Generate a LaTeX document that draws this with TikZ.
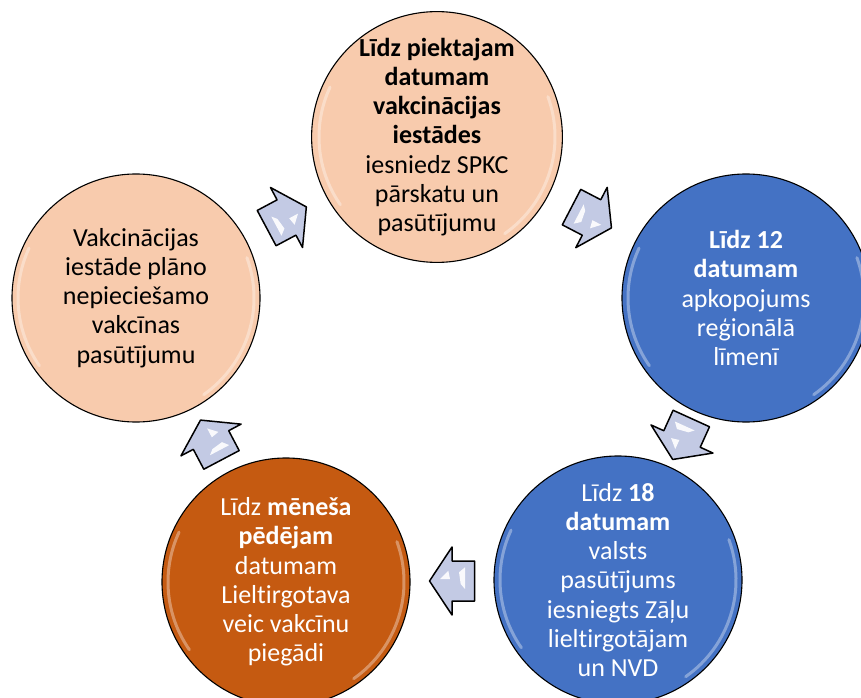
\documentclass[tikz,border=0pt]{standalone}
\usepackage{fontspec}
\setmainfont{Carlito}[Ligatures=NoCommon]
\usetikzlibrary{calc}
\definecolor{peach}{HTML}{F8CBAD}
\definecolor{oblue}{HTML}{4472C4}
\definecolor{dorange}{HTML}{C55A11}
\definecolor{arrfill}{HTML}{C3CAE4}
\tikzset{
  circ/.style={circle, draw=black, line width=1.1pt, minimum size=248pt, inner sep=0pt,
    align=center, font=\fontsize{26}{29.2}\selectfont},
  rim/.style={white, opacity=.35, line width=3pt, line cap=round},
  arrbody/.style={draw=black, line width=1.5pt, line join=round, fill=arrfill},
  arrhl/.style={fill=white, opacity=.9},
  blockarrow/.pic={
    \path[arrbody] (-22.5,-20) -- (0,-20) -- (0,-34) -- (22.5,0) -- (0,34) -- (0,20) -- (-22.5,20) -- cycle;
    \path[arrhl] (12,-2) -- (3.7,-10.3) -- (2,-2) -- cycle;
    \path[arrhl] (-13,-13.7) -- (-13,8) -- (-8.7,3) -- (-7,-8.7) -- cycle;
  }
}
\begin{document}
\begin{tikzpicture}[x=1pt,y=1pt]
\useasboundingbox (0,0) rectangle (861,697);
\clip (0,0) rectangle (861,697);

\node[circ, fill=peach, text=black] (top) at (437,560)
  {\textbf{Līdz piektajam}\\ \textbf{datumam}\\ \textbf{vakcinācijas}\\ \textbf{iestādes}\\ iesniedz SPKC\\ pārskatu un\\ pasūtījumu};
\node[circ, fill=oblue, text=white] (right) at (746,399)
  {\textbf{Līdz 12}\\ \textbf{datumam}\\ apkopojums\\ reģionālā\\ līmenī};
\node[circ, fill=oblue, text=white] (br) at (618,117)
  {Līdz \textbf{18}\\ \textbf{datumam}\\ valsts\\ pasūtījums\\ iesniegts Zāļu\\ lieltirgotājam\\ un NVD};
\node[circ, fill=dorange, text=white] (bl) at (286,115)
  {Līdz \textbf{mēneša}\\ \textbf{pēdējam}\\ datumam\\ Lieltirgotava\\ veic vakcīnu\\ piegādi};
\node[circ, fill=peach, text=black] (left) at (136,399)
  {Vakcinācijas\\ iestāde plāno\\ nepieciešamo\\ vakcīnas\\ pasūtījumu};

\foreach \c in {top,right,br,bl,left}{
  \draw[rim] (\c.center) ++(155:118) arc[start angle=155, end angle=215, radius=118];
  \draw[rim] (\c.center) ++(20:118) arc[start angle=20, end angle=-55, radius=118];
}

\pic[rotate=28.1]  at ($(left)!.5!(top)$)  {blockarrow};
\pic[rotate=-27.5] at ($(top)!.5!(right)$) {blockarrow};
\pic[rotate=245.6] at ($(right)!.5!(br)$)  {blockarrow};
\pic[rotate=180]   at ($(br)!.5!(bl)$)     {blockarrow};
\pic[rotate=117.8] at ($(bl)!.5!(left)$)   {blockarrow};
\end{tikzpicture}
\end{document}
